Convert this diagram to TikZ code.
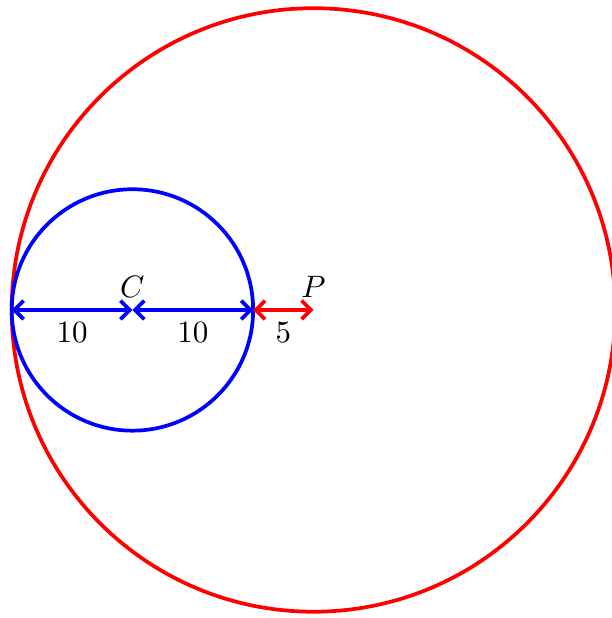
\documentclass[tikz,border=0pt]{standalone}
\usepackage{amsmath}
\usepackage{tikz}
\usetikzlibrary{arrows.meta}

\begin{document}
\begin{tikzpicture}[x=0.137cm,y=0.137cm,very thick,
  dim/.style={{Straight Barb[length=3pt,width=6pt]}-{Straight Barb[length=3pt,width=6pt]}}]
 \useasboundingbox (-0.97,-25.52) rectangle (49.73,25.68);
 \coordinate (A) at (0,0);
 \coordinate (C) at (10,0);
 \coordinate (B) at (20,0);
 \coordinate (P) at (25,0);
 \draw[red] (P) circle (25);
 \draw[blue] (C) circle (10);
 \draw[blue,dim] (A) -- node[below,text=black] {$10$} (C);
 \draw[blue,dim] (C) -- node[below,text=black] {$10$} (B);
 \draw[red,dim] (B) -- node[below,text=black] {$5$} (P);
 \node[above] (Clab) at (C) {$C$};
 \node[above] (Plab) at (P) {$P$};
\end{tikzpicture}
\end{document}
